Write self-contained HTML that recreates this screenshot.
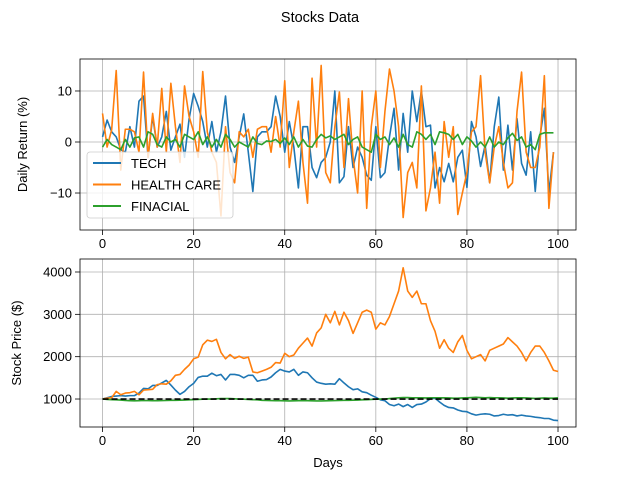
<!DOCTYPE html>
<html><head><meta charset="utf-8"><style>
body{margin:0;background:#fff;width:640px;height:480px;overflow:hidden}
svg{display:block;font-family:"Liberation Sans",sans-serif}
</style></head><body>
<svg id="fig" width="640" height="480"></svg>
<script>
const days = Array.from({length:101},(_, i)=>i);
const xTicks = [0,20,40,60,80,100];
const retTicks = [-10,0,10];
const priceTicks = [1000,2000,3000,4000];
const techReturns = [1,4.3,2,1,-1.5,-2,3,-1,8,9,-3,5,-1,1,6,-1.6,1,3.5,-3,4.5,9.5,7,4,-1,4,-2,2,9,-1,-4,1,5.5,-2,-9.7,1,2,2,3,9,5,-2,4,-1,-9,3,3,-5,-7,-4,-3,0,10,-8,-6.8,3,-5,-1,-3,-6.5,-7.5,3,-7,-6,1,6.6,-5.5,5.6,-2,10,4,10,3,3.3,-9,-5,-7.8,-4.2,-7.8,-3,-1.6,-8.9,4,1,-4.8,-0.6,-8,3,8.8,-5.5,3.3,-5.5,4.6,-4.2,-6.5,2,-9.7,1,6.6,-10,-2];
const healthReturns = [5.6,-1,2.4,14,-5.5,2.5,2.5,2,-2,13.7,-3,5.6,-1,10.5,-2,11.5,3,-4,11,5,2,-3,13.8,2,-2,-4,-14.5,3,-6,-8,2,1,2.5,-3,2.5,3,3,-2,5,-1,12,-5,2,8,-4,-12,12.5,-1,15,-6,-8,3,9.8,-5,8.5,-3,-10,10,-13,3,10,-5,6,14.3,10,3,-14.8,-6,-4,-9,11,-13.5,-9,-2,-12,4,-3,3,-14.2,-10,-6,2,3,13,-2,-8,-1,3,-4,-9,-8,6,13.7,-2,-5,-5,-1,13,-13,-2];
const finReturns = [-1,0.5,-0.5,-1,-1.5,0.5,-1,0.8,1,-1,2,1.5,-0.5,-1,1,0,0.5,-1,1.5,1,0.5,2,-0.5,1,-1,0.5,-1,1.5,0.5,-1,0,-0.5,-1,1,-0.3,-0.5,0.2,0.1,0.5,-0.3,0.8,-0.5,1,-1,0.5,-0.8,-1,0.5,1.5,0.8,1.2,0.5,1,1.5,-0.5,0.5,1,-1,-1.5,-2,1.5,0.5,1,-0.5,0.8,-1,1.5,-0.5,-1,2,1.5,0.5,1.5,-0.5,2,1.8,1.5,0.5,1.5,-0.5,1,0.2,-1,0,-1,1,-1,0,-0.5,0.8,1.7,0.3,1,-1,-0.5,-1.5,1.5,1.8,1.8,1.8];
const techPrice = [1000,1030,1060,1070,1080,1070,1080,1080,1140,1250,1240,1320,1320,1380,1440,1330,1210,1110,1180,1290,1370,1510,1540,1540,1610,1550,1580,1450,1580,1580,1560,1500,1560,1560,1420,1450,1460,1520,1620,1700,1660,1640,1700,1560,1640,1620,1500,1400,1370,1350,1360,1350,1480,1380,1290,1220,1240,1170,1150,1090,1040,980,960,870,840,880,820,870,800,870,880,930,1010,1020,930,850,800,790,740,710,700,650,620,640,650,640,600,610,640,620,630,600,620,600,590,570,560,540,540,500,490];
const healthPrice = [1000,1020,1030,1180,1100,1140,1150,1180,1100,1210,1220,1230,1340,1360,1350,1430,1560,1580,1700,1800,1950,1990,2280,2390,2360,2410,2100,1950,2050,1960,2010,1960,1990,1640,1620,1660,1700,1750,1860,1850,2080,2000,2040,2200,2320,2440,2250,2560,2680,3000,2800,3070,2750,3050,2850,2550,2800,3050,3100,3050,2650,2800,2750,2950,3250,3550,4100,3550,3400,3550,3250,3250,2850,2600,2200,2400,2200,2100,2350,2500,2150,1950,2000,2050,1900,2150,2200,2250,2300,2450,2350,2250,2100,1900,2100,2250,2250,2100,1900,1680,1650];
const finPrice = [1000,990,985,980,975,965,960,958,960,965,962,960,960,962,965,970,968,972,975,980,985,990,995,1000,1000,1005,1010,1012,1010,1005,1000,995,990,985,980,970,965,962,960,960,958,955,958,960,962,960,958,955,955,958,960,962,965,968,970,972,975,980,985,990,995,998,1000,1010,1020,1030,1035,1035,1030,1030,1028,1025,1030,1030,1028,1030,1025,1020,1020,1025,1030,1035,1040,1035,1030,1035,1030,1030,1025,1020,1025,1030,1030,1025,1020,1015,1020,1025,1020,1020,1030];
const baseline = 1000;

const NS="http://www.w3.org/2000/svg";
const svg=document.getElementById('fig');
function mk(tag,attrs,parent){const e=document.createElementNS(NS,tag);for(const k in attrs)e.setAttribute(k,attrs[k]);(parent||svg).appendChild(e);return e;}
const L=80,R=576,XMIN=-4.95,XMAX=103.95;
const xs=d=>L+(d-XMIN)/(XMAX-XMIN)*(R-L);
const top1=59,bot1=230,Y1MAX=16.27,Y1MIN=-17.25;
const y1=v=>top1+(Y1MAX-v)/(Y1MAX-Y1MIN)*(bot1-top1);
const top2=259,bot2=427,Y2MAX=4307,Y2MIN=339;
const y2=v=>top2+(Y2MAX-v)/(Y2MAX-Y2MIN)*(bot2-top2);

let t=mk('text',{x:320,y:22,'text-anchor':'middle','font-size':'14.5'});t.textContent='Stocks Data';



function axes(top,bot,ys,yticks,fmt,name,ylabel,ylx){
  const g=mk('g',{});
  
  
  xTicks.forEach(d=>{
    const l=mk('line',{x1:xs(d),x2:xs(d),y1:top,y2:bot,stroke:'#b0b0b0','stroke-width':0.8},g);
    
    
    mk('line',{x1:xs(d),x2:xs(d),y1:bot,y2:bot+5,stroke:'#000','stroke-width':0.8},g);
    const tx=mk('text',{x:xs(d),y:bot+18,'text-anchor':'middle','font-size':'13'},g);tx.textContent=d;
    
    
  });
  yticks.forEach(v=>{
    const l=mk('line',{x1:L,x2:R,y1:ys(v),y2:ys(v),stroke:'#b0b0b0','stroke-width':0.8},g);
    
    
    mk('line',{x1:L-5,x2:L,y1:ys(v),y2:ys(v),stroke:'#000','stroke-width':0.8},g);
    const tx=mk('text',{x:L-8,y:ys(v)+4.5,'text-anchor':'end','font-size':'13'},g);tx.textContent=fmt(v);
    
    
  });
  const yl=mk('text',{x:ylx,y:(top+bot)/2,'text-anchor':'middle','font-size':'13',transform:`rotate(-90 ${ylx} ${(top+bot)/2})`},g);
  yl.textContent=ylabel;
  
  
  return g;
}
function frame(top,bot){
  const r=mk('rect',{x:L,y:top,width:R-L,height:bot-top,fill:'none',stroke:'#000','stroke-width':0.8});
  
  
}
function series(vals,ys,color,name,dash){
  const p=mk('polyline',{points:vals.map((v,i)=>xs(days[i])+','+ys(v)).join(' '),fill:'none',stroke:color,'stroke-width':1.6,'stroke-linejoin':'round'});
  if(dash){p.setAttribute('stroke-dasharray',dash);}
  
  
}
axes(top1,bot1,y1,retTicks,v=>v<0?'\u2212'+(-v):v,'returns-axes','Daily Return (%)',27);
series(techReturns,y1,'#1f77b4','tech-return-line');
series(healthReturns,y1,'#ff7f0e','health-care-return-line');
series(finReturns,y1,'#2ca02c','financial-return-line');
frame(top1,bot1);

const lg=mk('g',{});


mk('rect',{x:87,y:152,width:146,height:66,rx:3,fill:'#fff','fill-opacity':0.8,stroke:'#ccc','stroke-width':0.8},lg);
[['TECH','#1f77b4'],['HEALTH CARE','#ff7f0e'],['FINACIAL','#2ca02c']].forEach((e,i)=>{
  const yy=163+i*21.5;
  const ge=mk('g',{},lg);
  
  
  mk('line',{x1:93,x2:121,y1:yy,y2:yy,stroke:e[1],'stroke-width':2},ge);
  const tx=mk('text',{x:131,y:yy+5,'font-size':'13'},ge);tx.textContent=e[0];
});

axes(top2,bot2,y2,priceTicks,v=>v,'price-axes','Stock Price ($)',21);
series(techPrice,y2,'#1f77b4','tech-price-line');
series(healthPrice,y2,'#ff7f0e','health-care-price-line');
series(finPrice,y2,'#2ca02c','financial-price-line');
series(days.map(()=>baseline),y2,'#000','baseline-dashed-line','6,3');
frame(top2,bot2);
const xl=mk('text',{x:328,y:467,'text-anchor':'middle','font-size':'13'});xl.textContent='Days';


</script>
</body></html>
